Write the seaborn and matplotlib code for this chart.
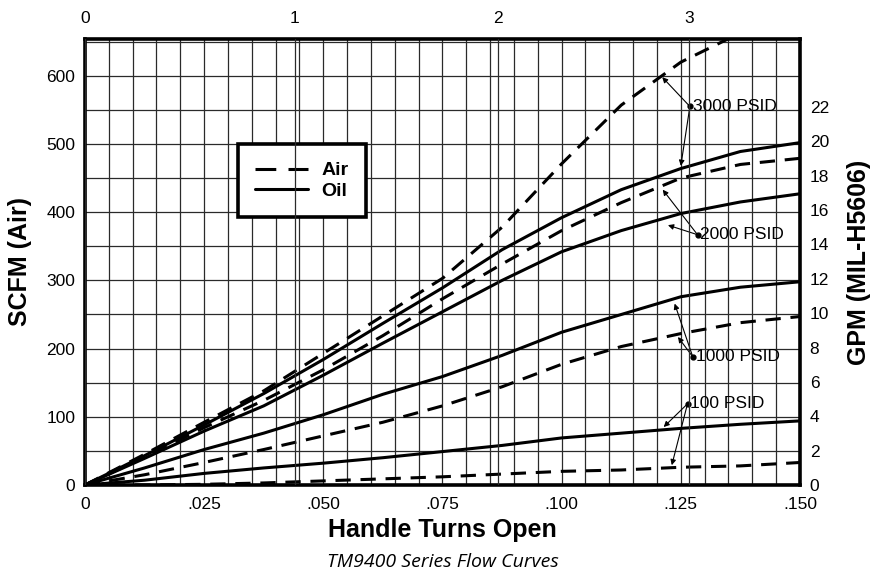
import numpy as np
import pandas as pd
import matplotlib
matplotlib.use("Agg")
import matplotlib.pyplot as plt
from matplotlib.lines import Line2D
from matplotlib.ticker import MultipleLocator
import seaborn as sns

# handle travel on the bottom axis where the curves were read
opening = [0, .0125, .025, .0375, .050, .0625, .075, .0875, .100, .1125, .125, .1375, .150]

# flow (SCFM scale), one list per curve
air_3000 = [0, 45, 92, 138, 193, 248, 303, 378, 471, 557, 620, 663, np.nan]
oil_3000 = [0, 43, 88, 134, 184, 237, 289, 345, 392, 433, 464, 489, 502]
air_2000 = [0, 41, 84, 124, 169, 219, 273, 324, 373, 414, 450, 470, 479]
oil_2000 = [0, 39, 79, 116, 161, 208, 254, 300, 342, 373, 398, 415, 427]
oil_1000 = [0, 25, 52, 76, 103, 133, 159, 190, 224, 250, 276, 290, 298]
air_1000 = [0, 15, 33, 52, 72, 92, 116, 144, 177, 203, 222, 238, 247]
oil_100 = [0, 7, 17, 25, 32, 40, 49, 58, 69, 76, 83, 89, 94]
air_100 = [0, 0, 1, 3, 6, 9, 12, 16, 20, 22, 26, 28, 33]

x_ticks = [0, .025, .050, .075, .100, .125, .150]
x_tick_labels = ["0", ".025", ".050", ".075", ".100", ".125", ".150"]
turn_ticks = [0, .044, .0866, .1267]
turn_labels = ["0", "1", "2", "3"]
scfm_ticks = [0, 100, 200, 300, 400, 500, 600]
gpm_ticks = [0, 2, 4, 6, 8, 10, 12, 14, 16, 18, 20, 22]

curves = {
    ("Air", 3000): air_3000, ("Oil", 3000): oil_3000,
    ("Air", 2000): air_2000, ("Oil", 2000): oil_2000,
    ("Air", 1000): air_1000, ("Oil", 1000): oil_1000,
    ("Air", 100): air_100, ("Oil", 100): oil_100,
}
rows = []
for (medium, psid), vals in curves.items():
    for x, y in zip(opening, vals):
        rows.append({"open": x, "scfm": y, "medium": medium, "psid": psid})
df = pd.DataFrame(rows).dropna()

sns.set_style("white")
plt.rcParams["font.family"] = ["Liberation Sans", "DejaVu Sans"]
plt.rcParams["text.color"] = "black"
plt.rcParams["axes.labelcolor"] = "black"
plt.rcParams["xtick.color"] = "black"
plt.rcParams["ytick.color"] = "black"

fig = plt.figure(figsize=(8.77, 5.73), dpi=100)
ax = fig.add_axes([0.0969, 0.1536, 0.8153, 0.7784])

sns.lineplot(data=df, x="open", y="scfm", style="medium", units="psid",
             estimator=None, color="black", linewidth=2.2,
             dashes={"Air": (5, 3.2), "Oil": ""}, legend=False, ax=ax)

ax.set_xlim(0, .150)
ax.set_ylim(0, 654)
ax.set_xticks(x_ticks)
ax.set_xticklabels(x_tick_labels)
ax.set_yticks(scfm_ticks)
ax.xaxis.set_minor_locator(MultipleLocator(.005))
ax.yaxis.set_minor_locator(MultipleLocator(50))
ax.grid(True, which="both", color="#2a2a2a", linewidth=0.9)
ax.set_axisbelow(True)
ax.tick_params(which="both", length=0, labelsize=12.5)
ax.tick_params(axis="x", pad=9)
ax.tick_params(axis="y", pad=7)
for s in ax.spines.values():
    s.set_linewidth(2.6)
    s.set_color("black")
    s.set_zorder(5)

ax.set_xlabel("Handle Turns Open", fontsize=18, fontweight="bold", labelpad=4)
ax.set_ylabel("SCFM (Air)", fontsize=18, fontweight="bold", labelpad=10)

# top axis: handle turns
top = ax.twiny()
top.set_xlim(ax.get_xlim())
top.set_xticks(turn_ticks)
top.set_xticklabels(turn_labels)
top.tick_params(length=0, labelsize=12.5, pad=9)
top.grid(True, color="#2a2a2a", linewidth=0.9)
top.set_axisbelow(True)
for s in top.spines.values():
    s.set_visible(False)

# right axis: oil flow
right = ax.twinx()
right.set_ylim(0, 25.96)
right.set_yticks(gpm_ticks)
right.tick_params(length=0, labelsize=12.5, pad=7)
right.set_ylabel("GPM (MIL-H5606)", fontsize=18, fontweight="bold", labelpad=13)
right.grid(False)
for s in right.spines.values():
    s.set_visible(False)

# pressure call-outs
callouts = [
    ("3000 PSID", (.1269, 555), [(.1211, 598), (.1250, 468)]),
    ("2000 PSID", (.1285, 367), [(.1212, 433), (.1223, 381)]),
    ("1000 PSID", (.1275, 188), [(.1237, 266), (.1244, 217)]),
    ("100 PSID", (.1264, 119), [(.1214, 85), (.1231, 29)]),
]
for label, dot, tips in callouts:
    ax.plot(*dot, "o", color="black", markersize=3.5, zorder=6)
    for tip in tips:
        ax.annotate("", xy=tip, xytext=dot,
                    arrowprops=dict(arrowstyle="-|>", color="black", lw=0.8,
                                    mutation_scale=8, shrinkA=0, shrinkB=0),
                    zorder=6)
    ax.annotate(label, xy=dot, xytext=(2, 0), textcoords="offset points",
                va="center", ha="left", fontsize=12.5, zorder=6)

handles = [Line2D([0], [0], color="black", lw=2.2, dashes=(6.8, 4)),
           Line2D([0], [0], color="black", lw=2.2)]
leg = ax.legend(handles, ["Air", "Oil"], loc="center", bbox_to_anchor=(0.303, 0.682),
                prop={"weight": "bold", "size": 14}, handlelength=2.7,
                handletextpad=0.7, labelspacing=0.15, borderpad=0.9,
                frameon=True, fancybox=False, framealpha=1, edgecolor="black")
leg.get_frame().set_linewidth(2.6)
leg.set_zorder(7)

fig.text(0.505, 0.019, "TM9400 Series Flow Curves", ha="center", va="center",
         fontsize=14, style="italic", family=["Open Sans", "DejaVu Sans"])

fig.savefig("out.png", dpi=100)
